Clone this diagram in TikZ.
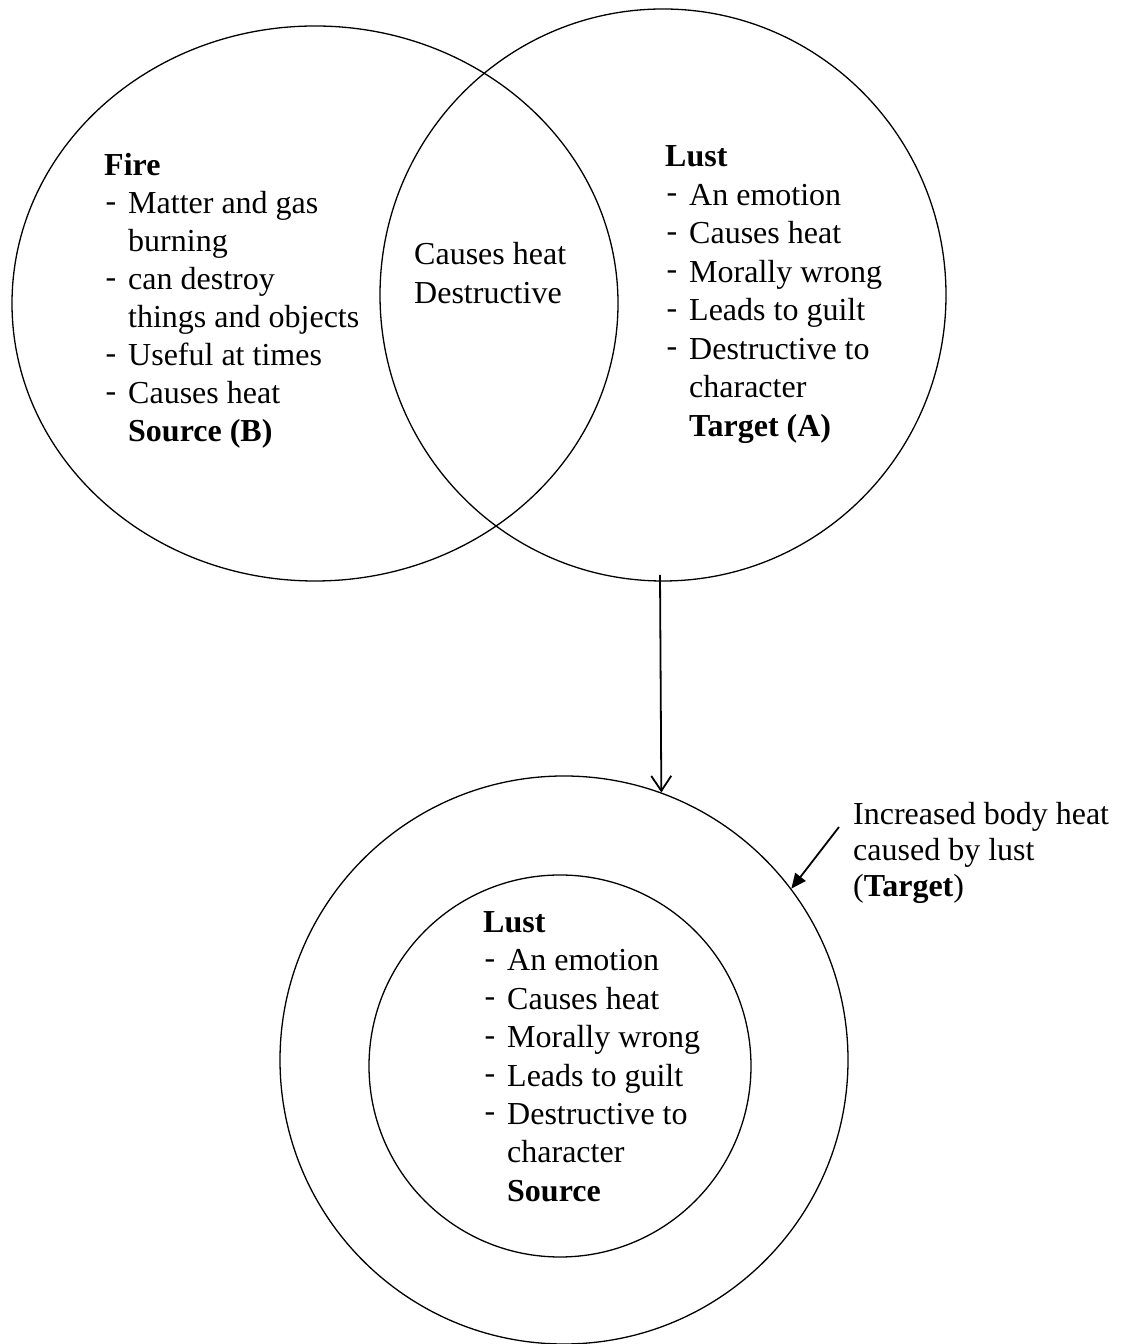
\documentclass[tikz,border=0pt]{standalone}
\usepackage{fontspec}
\setmainfont{Liberation Serif}
\usetikzlibrary{shapes.geometric,arrows.meta}

% list helpers: a raised hyphen bullet and a continuation line
\newcommand{\itm}[1]{\makebox[24pt][l]{\hspace{1.5pt}\raisebox{2.5pt}{-}}#1}
\newcommand{\cont}[1]{\hspace*{24pt}#1}

\tikzset{
  ring/.style={draw, line width=1.3pt, inner sep=0pt},
  oval/.style={ring, ellipse},
  disc/.style={ring, circle},
  txt/.style={inner sep=0pt, anchor=base west},
  link/.style={line width=1.8pt},
}

\begin{document}
\begin{tikzpicture}[x=1pt, y=1pt]
\useasboundingbox (0,0) rectangle (1129,1344);

% Venn pair
\node[oval, minimum width=606pt, minimum height=555pt] (fire) at (315,1040.5) {};
\node[oval, minimum width=566pt, minimum height=572pt] (lust) at (663,1049) {};

% concentric circles
\node[disc, minimum size=568pt] (outer) at (564,284) {};
\node[disc, minimum size=382pt] (inner) at (560,278) {};

% Fire block
\node[txt, font=\fontsize{32}{38}\selectfont] (fireText) at (104,1168) {%
\begin{tabular}[t]{@{}l@{}}
\textbf{Fire}\\
\itm{Matter and gas}\\
\cont{burning}\\
\itm{can destroy}\\
\cont{things and objects}\\
\itm{Useful at times}\\
\itm{Causes heat}\\
\cont{\textbf{Source (B)}}
\end{tabular}};

% shared traits
\node[txt, font=\fontsize{32}{38.5}\selectfont] (shared) at (414,1079) {%
\begin{tabular}[t]{@{}l@{}}
Causes heat\\
Destructive
\end{tabular}};

% Lust block (top)
\node[txt, font=\fontsize{32}{38.5}\selectfont] (lustText) at (665,1177) {%
\begin{tabular}[t]{@{}l@{}}
\textbf{Lust}\\
\itm{An emotion}\\
\itm{Causes heat}\\
\itm{Morally wrong}\\
\itm{Leads to guilt}\\
\itm{Destructive to}\\
\cont{character}\\
\cont{\textbf{Target (A)}}
\end{tabular}};

% Lust block (bottom)
\node[txt, font=\fontsize{32}{38.4}\selectfont] (innerText) at (483,411.5) {%
\begin{tabular}[t]{@{}l@{}}
\textbf{Lust}\\
\itm{An emotion}\\
\itm{Causes heat}\\
\itm{Morally wrong}\\
\itm{Leads to guilt}\\
\itm{Destructive to}\\
\cont{character}\\
\cont{\textbf{Source}}
\end{tabular}};

% side label
\node[txt, font=\fontsize{32}{36}\selectfont] (heatLabel) at (853,519) {%
\begin{tabular}[t]{@{}l@{}}
Increased body heat\\
caused by lust\\
(\textbf{Target})
\end{tabular}};

% connectors
\coordinate (down) at (660,769);
\draw[link, -{Straight Barb[length=15pt, width=20pt, line width=1.8pt]}] (down) -- (outer.70.24);

\coordinate (pointer) at (839,517);
\draw[link, -{Triangle[length=15pt, width=13pt]}] (pointer) -- (outer.37);
\end{tikzpicture}
\end{document}
